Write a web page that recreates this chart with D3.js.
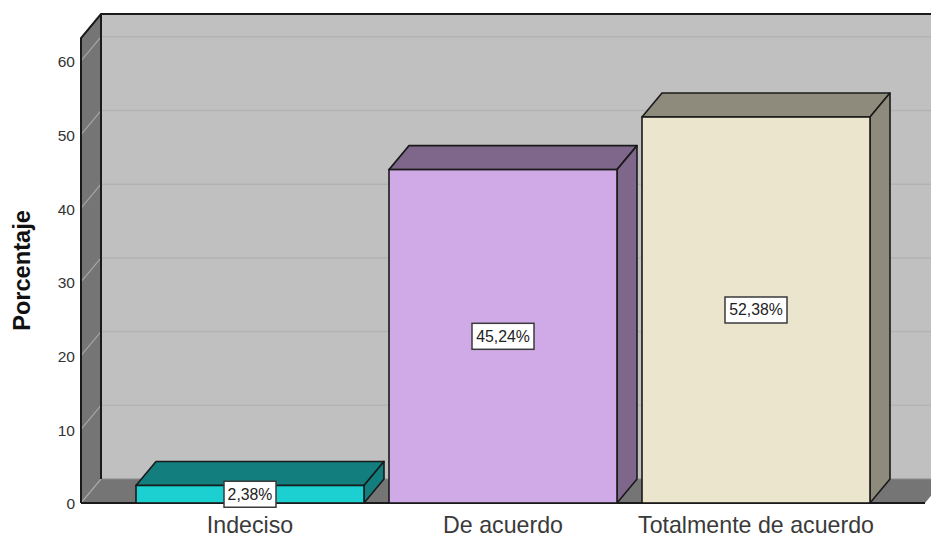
<!DOCTYPE html>
<html>
<head>
<meta charset="utf-8">
<script src="https://cdn.jsdelivr.net/npm/d3@7"></script>
<style>
html, body { margin: 0; padding: 0; background: #fff; overflow: hidden; }
svg { display: block; }
text { font-family: "Liberation Sans", Arial, sans-serif; }
</style>
</head>
<body>
<svg width="931" height="536"></svg>
<script>
// Data
var categories = ["Indeciso", "De acuerdo", "Totalmente de acuerdo"];
var percentages = [2.38, 45.24, 52.38];
var percentLabels = ["2,38%", "45,24%", "52,38%"];
var yTicks = [0, 10, 20, 30, 40, 50, 60];
var faceColors = ["#1ccfd1", "#d0aae6", "#ebe5ce"];
var topColors = ["#127e7e", "#7f678c", "#8f8b7c"];
var axisTitle = "Porcentaje";

var svg = d3.select("svg");
var line = "#1a1a1a";

// depth of the 3d box
var dx = 20, dy = -24;

var y = d3.scaleLinear().domain([0, 63.1]).range([503, 38]);
var x = d3.scaleBand().domain(categories).range([123.5, 882.5]).paddingInner(25 / 253).paddingOuter(12.5 / 253);

var left = 81, right = 925, base = y(0), top_ = y.range()[1];

function poly(pts) { return pts.map(function(p) { return p.join(","); }).join(" "); }

// back wall
svg.append("polygon")
  .attr("points", poly([[left + dx, top_ + dy], [right + dx, top_ + dy], [right + dx, base + dy], [left + dx, base + dy]]))
  .attr("fill", "#c0c0c0");

// left wall
svg.append("polygon")
  .attr("points", poly([[left, top_], [left + dx, top_ + dy], [left + dx, base + dy], [left, base]]))
  .attr("fill", "#757575");

// floor
svg.append("polygon")
  .attr("points", poly([[left, base], [left + dx, base + dy], [right + dx, base + dy], [right, base]]))
  .attr("fill", "#757575");

// gridlines, wall and side
var grid = svg.append("g");
yTicks.slice(1).forEach(function(t) {
  grid.append("line")
    .attr("x1", left + dx).attr("x2", 931)
    .attr("y1", y(t) + dy).attr("y2", y(t) + dy)
    .attr("stroke", "#b3b3b3").attr("stroke-width", 1.5);
  grid.append("line")
    .attr("x1", left).attr("x2", left + dx)
    .attr("y1", y(t)).attr("y2", y(t) + dy)
    .attr("stroke", "#a6a6a6").attr("stroke-width", 1.2);
});
grid.append("line")
  .attr("x1", left).attr("x2", left + dx)
  .attr("y1", base).attr("y2", base + dy)
  .attr("stroke", "#a6a6a6").attr("stroke-width", 1.2);
grid.append("line")
  .attr("x1", left + dx).attr("x2", 931)
  .attr("y1", base + dy).attr("y2", base + dy)
  .attr("stroke", "#8c8c8c").attr("stroke-width", 1.2);

// frame
svg.append("path")
  .attr("d", "M" + left + "," + base + "V" + top_ + "L" + (left + dx) + "," + (top_ + dy) + "H931")
  .attr("fill", "none").attr("stroke", line).attr("stroke-width", 2);
svg.append("line")
  .attr("x1", left + dx).attr("x2", left + dx)
  .attr("y1", top_ + dy).attr("y2", base + dy)
  .attr("stroke", line).attr("stroke-width", 2);
svg.append("line")
  .attr("x1", left).attr("x2", right)
  .attr("y1", base).attr("y2", base)
  .attr("stroke", line).attr("stroke-width", 2);

// bars
var bars = svg.selectAll(".bar").data(categories).enter().append("g").attr("class", "bar");

bars.append("polygon")
  .attr("points", function(d, i) {
    var x0 = x(d), x1 = x0 + x.bandwidth(), yt = y(percentages[i]);
    return poly([[x0, yt], [x0 + dx, yt + dy], [x1 + dx, yt + dy], [x1, yt]]);
  })
  .attr("fill", function(d, i) { return topColors[i]; })
  .attr("stroke", line).attr("stroke-width", 1.6).attr("stroke-linejoin", "round");

bars.append("polygon")
  .attr("points", function(d, i) {
    var x1 = x(d) + x.bandwidth(), yt = y(percentages[i]);
    return poly([[x1, yt], [x1 + dx, yt + dy], [x1 + dx, base + dy], [x1, base]]);
  })
  .attr("fill", function(d, i) { return topColors[i]; })
  .attr("stroke", line).attr("stroke-width", 1.6).attr("stroke-linejoin", "round");

bars.append("rect")
  .attr("x", function(d) { return x(d); })
  .attr("y", function(d, i) { return y(percentages[i]); })
  .attr("width", x.bandwidth())
  .attr("height", function(d, i) { return base - y(percentages[i]); })
  .attr("fill", function(d, i) { return faceColors[i]; })
  .attr("stroke", line).attr("stroke-width", 1.6);

// value labels
var labels = svg.selectAll(".lab").data(categories).enter().append("g").attr("class", "lab")
  .attr("transform", function(d, i) {
    return "translate(" + (x(d) + x.bandwidth() / 2) + "," + y(percentages[i] / 2) + ")";
  });
labels.append("rect")
  .attr("x", function(d, i) { return i == 0 ? -26 : -31; }).attr("y", -13)
  .attr("width", function(d, i) { return i == 0 ? 52 : 62; }).attr("height", 26)
  .attr("fill", "#fff").attr("stroke", "#3a3a3a").attr("stroke-width", 1.5);
labels.append("text")
  .attr("text-anchor", "middle").attr("y", 5.5)
  .attr("font-size", 15.8).attr("fill", "#222")
  .text(function(d, i) { return percentLabels[i]; });

// y axis
var yAxis = svg.append("g")
  .attr("transform", "translate(" + left + ",1)")
  .call(d3.axisLeft(y).tickValues(yTicks).tickSize(0).tickPadding(6));
yAxis.select(".domain").remove();
yAxis.selectAll("text").attr("font-size", 15.5).attr("font-family", "Liberation Sans").attr("fill", "#333");

// x axis
var xAxis = svg.append("g")
  .attr("transform", "translate(0," + base + ")")
  .call(d3.axisBottom(x).tickSize(0).tickPadding(14));
xAxis.select(".domain").remove();
xAxis.selectAll("text").attr("font-size", 23.2).attr("font-family", "Liberation Sans").attr("fill", "#3a3a3a");

svg.append("text")
  .attr("transform", "translate(30,270.5) rotate(-90)")
  .attr("text-anchor", "middle")
  .attr("font-size", 23.6).attr("font-weight", "bold").attr("fill", "#111")
  .text(axisTitle);
</script>
</body>
</html>
